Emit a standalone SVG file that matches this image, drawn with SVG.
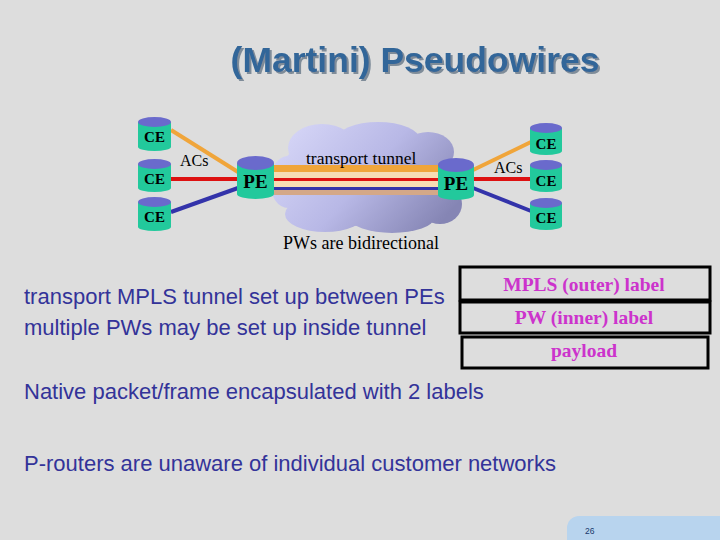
<svg xmlns="http://www.w3.org/2000/svg" width="720" height="540" viewBox="0 0 720 540">
<defs>
<linearGradient id="cloudGrad" gradientUnits="userSpaceOnUse" x1="300" y1="120" x2="430" y2="235">
<stop offset="0" stop-color="#d4d4f6"/>
<stop offset="0.5" stop-color="#b8b8e6"/>
<stop offset="1" stop-color="#8585b4"/>
</linearGradient>
<filter id="shadow" x="-5%" y="-20%" width="110%" height="140%">
<feDropShadow dx="2" dy="2" stdDeviation="0.6" flood-color="#7f8c99" flood-opacity="1"/>
</filter>
<style>
.body{fill:#22c99c;}
.top{fill:#6a6acc;}
.ce{font-family:"Liberation Serif",serif;font-weight:bold;font-size:15px;fill:#000;text-anchor:middle;}
.pe{font-family:"Liberation Serif",serif;font-weight:bold;font-size:19px;fill:#000;text-anchor:middle;}
.lbl{font-family:"Liberation Serif",serif;font-size:16px;fill:#000;}
.big{font-family:"Liberation Serif",serif;font-size:18px;fill:#000;}
.blue{font-family:"Liberation Sans",Arial,sans-serif;font-size:22px;fill:#333399;}
.stk{font-family:"Liberation Serif",serif;font-weight:bold;font-size:19.5px;fill:#cc33cc;text-anchor:middle;}
.box{fill:none;stroke:#000;stroke-width:3;}
.ac{stroke-width:4;fill:none;}
</style>
</defs>
<rect width="720" height="540" fill="#dddddd"/>
<g id="title">
<text x="415" y="72" font-family="Liberation Sans,Arial,sans-serif" font-weight="bold" font-size="35.5" fill="#336699" text-anchor="middle" filter="url(#shadow)">(Martini) Pseudowires</text>
</g>
<g id="cloud" fill="url(#cloudGrad)">
<ellipse cx="362" cy="180" rx="88" ry="46"/>
<ellipse cx="322" cy="148" rx="34" ry="24"/>
<ellipse cx="378" cy="140" rx="42" ry="18"/>
<ellipse cx="428" cy="152" rx="26" ry="20"/>
<ellipse cx="288" cy="182" rx="18" ry="26"/>
<ellipse cx="325" cy="214" rx="40" ry="18"/>
<ellipse cx="392" cy="218" rx="42" ry="15"/>
<ellipse cx="440" cy="204" rx="22" ry="20"/>
</g>
<g id="connectors">
<rect x="274" y="165" width="166" height="30" fill="#f6dcb4"/>
<rect x="274" y="165" width="166" height="7" fill="#f0a53a"/>
<rect x="274" y="190" width="166" height="5" fill="#d4a888"/>
<line x1="274" y1="179.5" x2="440" y2="179.5" stroke="#dd1111" stroke-width="3"/>
<line x1="274" y1="188.5" x2="440" y2="188.5" stroke="#3333aa" stroke-width="3"/>
<line class="ac" x1="171" y1="130" x2="238" y2="172" stroke="#f0a53a"/>
<line class="ac" x1="171" y1="179" x2="238" y2="179" stroke="#dd1111"/>
<line class="ac" x1="171" y1="212" x2="238" y2="188" stroke="#3333aa"/>
<line class="ac" x1="473" y1="170" x2="531" y2="142" stroke="#f0a53a"/>
<line class="ac" x1="473" y1="179" x2="531" y2="179" stroke="#dd1111"/>
<line class="ac" x1="473" y1="188" x2="531" y2="211" stroke="#3333aa"/>
</g>
<g id="ce-l1">
<rect class="body" x="138" y="122" width="33" height="25"/><ellipse class="body" cx="154.5" cy="147" rx="16.5" ry="4"/><ellipse class="top" cx="154.5" cy="122" rx="16.5" ry="5"/>
<text class="ce" x="154.5" y="142">CE</text>
</g>
<g id="ce-l2">
<rect class="body" x="138" y="164" width="33" height="24"/><ellipse class="body" cx="154.5" cy="188" rx="16.5" ry="4"/><ellipse class="top" cx="154.5" cy="164" rx="16.5" ry="5"/>
<text class="ce" x="154.5" y="184">CE</text>
</g>
<g id="ce-l3">
<rect class="body" x="138" y="202" width="33" height="25"/><ellipse class="body" cx="154.5" cy="227" rx="16.5" ry="4"/><ellipse class="top" cx="154.5" cy="202" rx="16.5" ry="5"/>
<text class="ce" x="154.5" y="222">CE</text>
</g>
<g id="pe-l">
<rect class="body" x="237" y="163" width="37" height="31"/><ellipse class="body" cx="255.5" cy="194" rx="18.5" ry="5"/><ellipse class="top" cx="255.5" cy="163" rx="18.5" ry="7"/>
<text class="pe" x="255.5" y="188">PE</text>
</g>
<g id="pe-r">
<rect class="body" x="438" y="165" width="36" height="30"/><ellipse class="body" cx="456" cy="195" rx="18" ry="5"/><ellipse class="top" cx="456" cy="165" rx="18" ry="7"/>
<text class="pe" x="456" y="190">PE</text>
</g>
<g id="ce-r1">
<rect class="body" x="530" y="128" width="32" height="23"/><ellipse class="body" cx="546" cy="151" rx="16" ry="4"/><ellipse class="top" cx="546" cy="128" rx="16" ry="5"/>
<text class="ce" x="546" y="149">CE</text>
</g>
<g id="ce-r2">
<rect class="body" x="530" y="165" width="32" height="23"/><ellipse class="body" cx="546" cy="188" rx="16" ry="4"/><ellipse class="top" cx="546" cy="165" rx="16" ry="5"/>
<text class="ce" x="546" y="186">CE</text>
</g>
<g id="ce-r3">
<rect class="body" x="530" y="203" width="32" height="23"/><ellipse class="body" cx="546" cy="226" rx="16" ry="4"/><ellipse class="top" cx="546" cy="203" rx="16" ry="5"/>
<text class="ce" x="546" y="223">CE</text>
</g>
<g id="labels">
<text class="lbl" x="180" y="166">ACs</text>
<text class="lbl" x="494" y="173">ACs</text>
<text class="big" x="306" y="164" style="font-size:17.5px">transport tunnel</text>
<text class="big" x="283" y="249">PWs are bidirectional</text>
</g>
<g id="stack">
<rect class="box" x="460" y="267" width="250" height="33"/>
<rect class="box" x="460" y="302" width="250" height="31"/>
<rect class="box" x="462" y="337" width="246" height="31"/>
<text class="stk" x="584" y="291">MPLS (outer) label</text>
<text class="stk" x="584" y="324">PW (inner) label</text>
<text class="stk" x="584" y="357">payload</text>
</g>
<g id="text">
<text class="blue" x="24" y="304">transport MPLS tunnel set up between PEs</text>
<text class="blue" x="24" y="335">multiple PWs may be set up inside tunnel</text>
<text class="blue" x="24" y="399">Native packet/frame encapsulated with 2 labels</text>
<text class="blue" x="24" y="471">P-routers are unaware of individual customer networks</text>
</g>
<g id="footer">
<rect x="567" y="516" width="170" height="40" rx="12" fill="#b8d4ee"/>
<text x="585" y="534" font-family="Liberation Sans,Arial,sans-serif" font-size="8.5" fill="#1a3a6a">26</text>
</g>
</svg>
